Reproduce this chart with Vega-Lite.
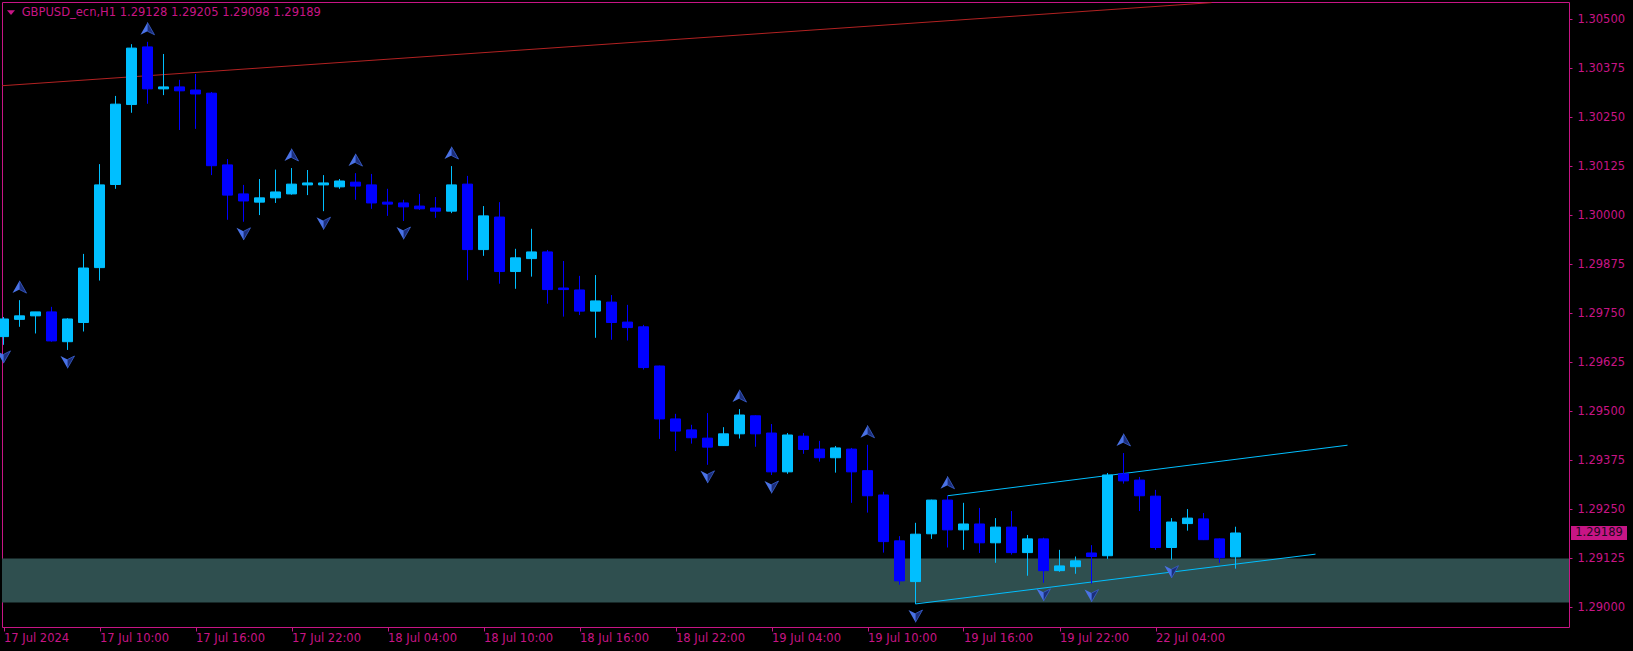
{
  "$schema": "https://vega.github.io/schema/vega-lite/v6.json",
  "width": 1567,
  "height": 625,
  "autosize": {"type": "none"},
  "padding": {"left": 2, "top": 2, "right": 64, "bottom": 24},
  "background": "#000000",
  "config": {
    "view": {"stroke": "#C71585", "strokeWidth": 1},
    "axis": {
      "labelFont": "DejaVu Sans",
      "labelFontSize": 11.5,
      "labelColor": "#C71585",
      "tickColor": "#C71585",
      "domain": false,
      "grid": false
    }
  },
  "datasets": {
    "candles": [
      {"k":0,"o":1.29690,"h":1.29740,"l":1.29669,"c":1.29735,"fr":"down"},
      {"k":1,"o":1.29734,"h":1.29783,"l":1.29715,"c":1.29743,"fr":"up"},
      {"k":2,"o":1.29743,"h":1.29753,"l":1.29698,"c":1.29753,"fr":""},
      {"k":3,"o":1.29753,"h":1.29766,"l":1.29677,"c":1.29679,"fr":""},
      {"k":4,"o":1.29677,"h":1.29737,"l":1.29656,"c":1.29735,"fr":"down"},
      {"k":5,"o":1.29726,"h":1.29901,"l":1.29703,"c":1.29865,"fr":""},
      {"k":6,"o":1.29866,"h":1.30130,"l":1.29833,"c":1.30077,"fr":""},
      {"k":7,"o":1.30078,"h":1.30304,"l":1.30067,"c":1.30283,"fr":""},
      {"k":8,"o":1.30282,"h":1.30436,"l":1.30261,"c":1.30426,"fr":""},
      {"k":9,"o":1.30429,"h":1.30442,"l":1.30284,"c":1.30322,"fr":"up"},
      {"k":10,"o":1.30322,"h":1.30411,"l":1.30306,"c":1.30327,"fr":""},
      {"k":11,"o":1.30327,"h":1.30345,"l":1.30217,"c":1.30317,"fr":""},
      {"k":12,"o":1.30319,"h":1.30360,"l":1.30220,"c":1.30309,"fr":""},
      {"k":13,"o":1.30311,"h":1.30314,"l":1.30102,"c":1.30126,"fr":""},
      {"k":14,"o":1.30128,"h":1.30143,"l":1.29988,"c":1.30051,"fr":""},
      {"k":15,"o":1.30054,"h":1.30077,"l":1.29983,"c":1.30036,"fr":"down"},
      {"k":16,"o":1.30033,"h":1.30092,"l":1.30000,"c":1.30044,"fr":""},
      {"k":17,"o":1.30044,"h":1.30116,"l":1.30031,"c":1.30059,"fr":""},
      {"k":18,"o":1.30054,"h":1.30120,"l":1.30052,"c":1.30079,"fr":"up"},
      {"k":19,"o":1.30077,"h":1.30115,"l":1.30051,"c":1.30082,"fr":""},
      {"k":20,"o":1.30077,"h":1.30102,"l":1.30010,"c":1.30082,"fr":"down"},
      {"k":21,"o":1.30072,"h":1.30092,"l":1.30067,"c":1.30087,"fr":""},
      {"k":22,"o":1.30084,"h":1.30107,"l":1.30039,"c":1.30074,"fr":"up"},
      {"k":23,"o":1.30077,"h":1.30105,"l":1.30016,"c":1.30031,"fr":""},
      {"k":24,"o":1.30033,"h":1.30067,"l":1.29998,"c":1.30028,"fr":""},
      {"k":25,"o":1.30031,"h":1.30039,"l":1.29985,"c":1.30021,"fr":"down"},
      {"k":26,"o":1.30023,"h":1.30054,"l":1.30013,"c":1.30016,"fr":""},
      {"k":27,"o":1.30018,"h":1.30046,"l":1.29993,"c":1.30010,"fr":""},
      {"k":28,"o":1.30010,"h":1.30125,"l":1.30005,"c":1.30077,"fr":"up"},
      {"k":29,"o":1.30079,"h":1.30100,"l":1.29834,"c":1.29912,"fr":""},
      {"k":30,"o":1.29912,"h":1.30023,"l":1.29896,"c":1.29998,"fr":""},
      {"k":31,"o":1.29995,"h":1.30033,"l":1.29825,"c":1.29856,"fr":""},
      {"k":32,"o":1.29856,"h":1.29914,"l":1.29812,"c":1.29891,"fr":""},
      {"k":33,"o":1.29889,"h":1.29965,"l":1.29843,"c":1.29906,"fr":""},
      {"k":34,"o":1.29906,"h":1.29911,"l":1.29774,"c":1.29810,"fr":""},
      {"k":35,"o":1.29814,"h":1.29883,"l":1.29741,"c":1.29810,"fr":""},
      {"k":36,"o":1.29809,"h":1.29845,"l":1.29745,"c":1.29755,"fr":""},
      {"k":37,"o":1.29755,"h":1.29847,"l":1.29687,"c":1.29781,"fr":""},
      {"k":38,"o":1.29778,"h":1.29796,"l":1.29682,"c":1.29726,"fr":""},
      {"k":39,"o":1.29727,"h":1.29771,"l":1.29680,"c":1.29713,"fr":""},
      {"k":40,"o":1.29715,"h":1.29720,"l":1.29606,"c":1.29611,"fr":""},
      {"k":41,"o":1.29615,"h":1.29616,"l":1.29429,"c":1.29480,"fr":""},
      {"k":42,"o":1.29480,"h":1.29493,"l":1.29398,"c":1.29449,"fr":""},
      {"k":43,"o":1.29452,"h":1.29465,"l":1.29417,"c":1.29432,"fr":""},
      {"k":44,"o":1.29431,"h":1.29495,"l":1.29363,"c":1.29408,"fr":"down"},
      {"k":45,"o":1.29412,"h":1.29459,"l":1.29411,"c":1.29442,"fr":""},
      {"k":46,"o":1.29442,"h":1.29505,"l":1.29430,"c":1.29490,"fr":"up"},
      {"k":47,"o":1.29488,"h":1.29489,"l":1.29409,"c":1.29442,"fr":""},
      {"k":48,"o":1.29444,"h":1.29467,"l":1.29337,"c":1.29345,"fr":"down"},
      {"k":49,"o":1.29345,"h":1.29444,"l":1.29340,"c":1.29439,"fr":""},
      {"k":50,"o":1.29436,"h":1.29444,"l":1.29391,"c":1.29402,"fr":""},
      {"k":51,"o":1.29403,"h":1.29424,"l":1.29371,"c":1.29381,"fr":""},
      {"k":52,"o":1.29381,"h":1.29411,"l":1.29343,"c":1.29406,"fr":""},
      {"k":53,"o":1.29403,"h":1.29406,"l":1.29266,"c":1.29345,"fr":""},
      {"k":54,"o":1.29348,"h":1.29414,"l":1.29241,"c":1.29284,"fr":"up"},
      {"k":55,"o":1.29286,"h":1.29294,"l":1.29139,"c":1.29167,"fr":""},
      {"k":56,"o":1.29169,"h":1.29181,"l":1.29057,"c":1.29067,"fr":""},
      {"k":57,"o":1.29065,"h":1.29215,"l":1.29008,"c":1.29186,"fr":"down"},
      {"k":58,"o":1.29187,"h":1.29274,"l":1.29174,"c":1.29273,"fr":""},
      {"k":59,"o":1.29273,"h":1.29284,"l":1.29152,"c":1.29197,"fr":"up"},
      {"k":60,"o":1.29197,"h":1.29266,"l":1.29146,"c":1.29212,"fr":""},
      {"k":61,"o":1.29212,"h":1.29253,"l":1.29138,"c":1.29164,"fr":""},
      {"k":62,"o":1.29164,"h":1.29227,"l":1.29113,"c":1.29204,"fr":""},
      {"k":63,"o":1.29204,"h":1.29245,"l":1.29134,"c":1.29139,"fr":""},
      {"k":64,"o":1.29139,"h":1.29184,"l":1.29080,"c":1.29174,"fr":""},
      {"k":65,"o":1.29174,"h":1.29177,"l":1.29062,"c":1.29093,"fr":"down"},
      {"k":66,"o":1.29093,"h":1.29146,"l":1.29090,"c":1.29105,"fr":""},
      {"k":67,"o":1.29103,"h":1.29129,"l":1.29085,"c":1.29118,"fr":""},
      {"k":68,"o":1.29138,"h":1.29158,"l":1.29060,"c":1.29129,"fr":"down"},
      {"k":69,"o":1.29131,"h":1.29342,"l":1.29123,"c":1.29337,"fr":""},
      {"k":70,"o":1.29340,"h":1.29393,"l":1.29315,"c":1.29322,"fr":"up"},
      {"k":71,"o":1.29324,"h":1.29332,"l":1.29245,"c":1.29284,"fr":""},
      {"k":72,"o":1.29283,"h":1.29299,"l":1.29146,"c":1.29152,"fr":""},
      {"k":73,"o":1.29152,"h":1.29227,"l":1.29121,"c":1.29217,"fr":"down"},
      {"k":74,"o":1.29213,"h":1.29250,"l":1.29195,"c":1.29227,"fr":""},
      {"k":75,"o":1.29225,"h":1.29240,"l":1.29171,"c":1.29172,"fr":""},
      {"k":76,"o":1.29174,"h":1.29175,"l":1.29113,"c":1.29126,"fr":""},
      {"k":77,"o":1.29128,"h":1.29205,"l":1.29098,"c":1.29189,"fr":""}
    ],
    "zone": [{"top": 1.29124, "bottom": 1.29012}],
    "redline": [{"k": -1, "p": 1.303275}, {"k": 75.5, "p": 1.30542}],
    "channel": [
      {"id": "upper", "k": 59, "p": 1.29284},
      {"id": "upper", "k": 84, "p": 1.29413},
      {"id": "lower", "k": 57, "p": 1.29008},
      {"id": "lower", "k": 82, "p": 1.29135}
    ],
    "header": [{"label": "GBPUSD_ecn,H1  1.29128 1.29205 1.29098 1.29189", "k": 1.137, "p": 1.305163, "tk": 0.469, "tp": 1.305168}]
  },
  "layer": [
    {
      "data": {"name": "zone"},
      "mark": {"type": "rect", "color": "#2F4F4F"},
      "encoding": {
        "y": {
          "field": "top", "type": "quantitative", "title": null,
          "scale": {"domain": [1.289492, 1.305436], "nice": false, "zero": false},
          "axis": {
            "orient": "right",
            "title": null,
            "values": [1.29, 1.29125, 1.2925, 1.29375, 1.295, 1.29625, 1.2975, 1.29875, 1.3, 1.30125, 1.3025, 1.30375, 1.305],
            "format": ".5f",
            "tickSize": 3,
            "labelPadding": 5,
            "labelAlign": "left",
            "labelBaseline": "middle",
            "labelOverlap": false
          }
        },
        "y2": {"field": "bottom"}
      }
    },
    {
      "data": {"name": "redline"},
      "mark": {"type": "line", "color": "#B22222", "strokeWidth": 1, "clip": true},
      "encoding": {
        "x": {
          "field": "k", "type": "quantitative", "title": null,
          "scale": {"domain": [-0.09375, 97.84375], "nice": false, "zero": false, "padding": 0},
          "axis": {
            "orient": "bottom",
            "title": null,
            "values": [0, 6, 12, 18, 24, 30, 36, 42, 48, 54, 60, 66, 72],
            "labelExpr": "['17 Jul 2024','17 Jul 10:00','17 Jul 16:00','17 Jul 22:00','18 Jul 04:00','18 Jul 10:00','18 Jul 16:00','18 Jul 22:00','19 Jul 04:00','19 Jul 10:00','19 Jul 16:00','19 Jul 22:00','22 Jul 04:00'][round(datum.value / 6)]",
            "labelAlign": "left",
            "labelBaseline": "top",
            "tickSize": 4,
            "labelPadding": 1,
            "labelFlush": false,
            "labelOverlap": false
          }
        },
        "y": {"field": "p", "type": "quantitative", "title": null, "scale": {"domain": [1.289492, 1.305436], "nice": false, "zero": false}}
      }
    },
    {
      "data": {"name": "channel"},
      "mark": {"type": "line", "color": "#00BFFF", "strokeWidth": 1},
      "encoding": {
        "x": {"field": "k", "type": "quantitative", "title": null, "scale": {"domain": [-0.09375, 97.84375], "nice": false, "zero": false, "padding": 0}},
        "y": {"field": "p", "type": "quantitative", "title": null, "scale": {"domain": [1.289492, 1.305436], "nice": false, "zero": false}},
        "detail": {"field": "id"}
      }
    },
    {
      "data": {"name": "candles"},
      "mark": {"type": "rule", "strokeWidth": 1},
      "encoding": {
        "x": {"field": "k", "type": "quantitative", "title": null, "scale": {"domain": [-0.09375, 97.84375], "nice": false, "zero": false, "padding": 0}},
        "y": {"field": "l", "type": "quantitative", "title": null, "scale": {"domain": [1.289492, 1.305436], "nice": false, "zero": false}},
        "y2": {"field": "h"},
        "color": {"condition": {"test": "datum.c >= datum.o", "value": "#00BFFF"}, "value": "#0000FF"}
      }
    },
    {
      "data": {"name": "candles"},
      "mark": {"type": "bar", "width": 10, "strokeWidth": 1},
      "encoding": {
        "x": {"field": "k", "type": "quantitative", "title": null, "scale": {"domain": [-0.09375, 97.84375], "nice": false, "zero": false, "padding": 0}},
        "y": {"field": "o", "type": "quantitative", "title": null, "scale": {"domain": [1.289492, 1.305436], "nice": false, "zero": false}},
        "y2": {"field": "c"},
        "color": {"condition": {"test": "datum.c >= datum.o", "value": "#00BFFF"}, "value": "#0000FF"},
        "stroke": {"condition": {"test": "datum.c >= datum.o", "value": "#00BFFF"}, "value": "#0000FF"}
      }
    },
    {
      "data": {"name": "candles"},
      "transform": [{"filter": "datum.fr == 'up'"}],
      "mark": {"type": "point", "shape": "M0,-0.9L0,0.35L-1,0.85Z", "size": 196, "filled": true, "color": "#4A72E6", "strokeWidth": 0, "yOffset": -13, "opacity": 1},
      "encoding": {
        "x": {"field": "k", "type": "quantitative", "title": null, "scale": {"domain": [-0.09375, 97.84375], "nice": false, "zero": false, "padding": 0}},
        "y": {"field": "h", "type": "quantitative", "title": null, "scale": {"domain": [1.289492, 1.305436], "nice": false, "zero": false}}
      }
    },
    {
      "data": {"name": "candles"},
      "transform": [{"filter": "datum.fr == 'up'"}],
      "mark": {"type": "point", "shape": "M0,-0.9L1,0.85L0,0.35Z", "size": 196, "filled": true, "color": "#1C2E7A", "stroke": "#3A5FCF", "strokeWidth": 0.8, "yOffset": -13, "opacity": 1},
      "encoding": {
        "x": {"field": "k", "type": "quantitative", "title": null, "scale": {"domain": [-0.09375, 97.84375], "nice": false, "zero": false, "padding": 0}},
        "y": {"field": "h", "type": "quantitative", "title": null, "scale": {"domain": [1.289492, 1.305436], "nice": false, "zero": false}}
      }
    },
    {
      "data": {"name": "candles"},
      "transform": [{"filter": "datum.fr == 'down'"}],
      "mark": {"type": "point", "shape": "M0,0.9L0,-0.35L-1,-0.85Z", "size": 196, "filled": true, "color": "#4A72E6", "strokeWidth": 0, "yOffset": 12, "opacity": 1},
      "encoding": {
        "x": {"field": "k", "type": "quantitative", "title": null, "scale": {"domain": [-0.09375, 97.84375], "nice": false, "zero": false, "padding": 0}},
        "y": {"field": "l", "type": "quantitative", "title": null, "scale": {"domain": [1.289492, 1.305436], "nice": false, "zero": false}}
      }
    },
    {
      "data": {"name": "candles"},
      "transform": [{"filter": "datum.fr == 'down'"}],
      "mark": {"type": "point", "shape": "M0,0.9L1,-0.85L0,-0.35Z", "size": 196, "filled": true, "color": "#1C2E7A", "stroke": "#3A5FCF", "strokeWidth": 0.8, "yOffset": 12, "opacity": 1},
      "encoding": {
        "x": {"field": "k", "type": "quantitative", "title": null, "scale": {"domain": [-0.09375, 97.84375], "nice": false, "zero": false, "padding": 0}},
        "y": {"field": "l", "type": "quantitative", "title": null, "scale": {"domain": [1.289492, 1.305436], "nice": false, "zero": false}}
      }
    },
    {
      "data": {"name": "header"},
      "mark": {"type": "text", "font": "DejaVu Sans", "fontSize": 11.5, "color": "#C71585", "align": "left", "baseline": "middle"},
      "encoding": {
        "x": {"field": "k", "type": "quantitative", "title": null, "scale": {"domain": [-0.09375, 97.84375], "nice": false, "zero": false, "padding": 0}},
        "y": {"field": "p", "type": "quantitative", "title": null, "scale": {"domain": [1.289492, 1.305436], "nice": false, "zero": false}},
        "text": {"field": "label"}
      }
    },
    {
      "data": {"name": "header"},
      "mark": {"type": "point", "shape": "M-1,-0.55L1,-0.55L0,0.6Z", "size": 64, "filled": true, "color": "#C71585", "strokeWidth": 0, "opacity": 1},
      "encoding": {
        "x": {"field": "tk", "type": "quantitative", "title": null, "scale": {"domain": [-0.09375, 97.84375], "nice": false, "zero": false, "padding": 0}},
        "y": {"field": "tp", "type": "quantitative", "title": null, "scale": {"domain": [1.289492, 1.305436], "nice": false, "zero": false}}
      }
    },
    {
      "data": {"name": "candles"},
      "transform": [{"filter": "datum.k == 77"}],
      "mark": {"type": "point", "shape": "M-1,-0.25L1,-0.25L1,0.25L-1,0.25Z", "size": 3136, "filled": true, "color": "#C71585", "strokeWidth": 0, "opacity": 1, "clip": false},
      "encoding": {
        "x": {"value": {"expr": "width + 30"}},
        "y": {"field": "c", "type": "quantitative", "title": null, "scale": {"domain": [1.289492, 1.305436], "nice": false, "zero": false}}
      }
    },
    {
      "data": {"name": "candles"},
      "transform": [{"filter": "datum.k == 77"}],
      "mark": {"type": "text", "font": "DejaVu Sans", "fontSize": 11.5, "color": "#1A0A20", "align": "center", "baseline": "middle", "clip": false},
      "encoding": {
        "x": {"value": {"expr": "width + 30"}},
        "y": {"field": "c", "type": "quantitative", "title": null, "scale": {"domain": [1.289492, 1.305436], "nice": false, "zero": false}},
        "text": {"field": "c", "type": "quantitative", "format": ".5f"}
      }
    }
  ]
}
